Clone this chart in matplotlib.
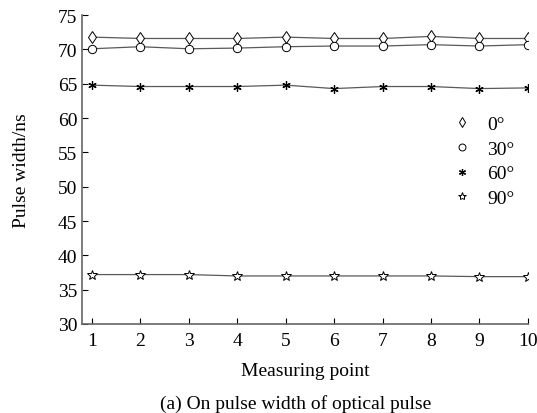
import matplotlib
matplotlib.use('Agg')
import matplotlib.pyplot as plt

plt.rcParams['font.family'] = ['Liberation Serif', 'DejaVu Serif']

points = [1, 2, 3, 4, 5, 6, 7, 8, 9, 10]
w_0 = [71.8, 71.6, 71.6, 71.6, 71.8, 71.6, 71.6, 71.9, 71.6, 71.6]
w_30 = [70.1, 70.4, 70.1, 70.2, 70.4, 70.5, 70.5, 70.7, 70.5, 70.7]
w_60 = [64.8, 64.6, 64.6, 64.6, 64.8, 64.3, 64.6, 64.6, 64.3, 64.4]
w_90 = [37.2, 37.2, 37.2, 37.0, 37.0, 37.0, 37.0, 37.0, 36.9, 36.9]
labels = ['0°', '30°', '60°', '90°']

fig = plt.figure(figsize=(5.37, 4.14), dpi=100)
ax = fig.add_axes([0.153, 0.215, 0.83, 0.746])

lc = '0.35'
ax.plot(points, w_0, color=lc, lw=0.9, marker='d', ms=6, mfc='white', mec='black', mew=0.7)
ax.plot(points, w_30, color=lc, lw=0.9, marker='o', ms=6, mfc='white', mec='black', mew=0.7)
ax.plot(points, w_60, color=lc, lw=0.9, marker=(6, 2, 0), ms=6, mfc='black', mec='black', mew=0.9)
ax.plot(points, w_90, color=lc, lw=0.9, marker='*', ms=7, mfc='white', mec='black', mew=0.7)

# legend: markers only, no frame
hs = []
hs.append(plt.Line2D([], [], ls='none', marker='d', ms=5, mfc='white', mec='black', mew=0.7))
hs.append(plt.Line2D([], [], ls='none', marker='o', ms=5, mfc='white', mec='black', mew=0.7))
hs.append(plt.Line2D([], [], ls='none', marker=(6, 2, 0), ms=5, mfc='black', mec='black', mew=0.9))
hs.append(plt.Line2D([], [], ls='none', marker='*', ms=6, mfc='white', mec='black', mew=0.7))
ax.legend(hs, labels, frameon=False, fontsize=14, loc='upper left',
          bbox_to_anchor=(0.80, 0.72), handlelength=1.0, handletextpad=0.8,
          labelspacing=0.37, borderpad=0.2)

ax.set_xlim(0.8, 10)
ax.set_ylim(30, 75)
ax.set_xticks(points)
ax.set_yticks(range(30, 80, 5))
ax.tick_params(direction='in', length=4, labelsize=14, width=0.8)
ax.tick_params(axis='x', pad=6)
ax.spines['top'].set_visible(False)
ax.spines['right'].set_visible(False)
ax.spines['left'].set_color('0.4')
ax.spines['bottom'].set_color('0.4')
ax.spines['left'].set_linewidth(1.2)
ax.spines['bottom'].set_linewidth(1.2)

ax.set_xlabel('Measuring point', fontsize=14, labelpad=9)
ax.set_ylabel('Pulse width/ns', fontsize=14, labelpad=20)
fig.text(0.55, 0.012, '(a) On pulse width of optical pulse', ha='center', fontsize=14)

fig.savefig('out.png', dpi=100)
